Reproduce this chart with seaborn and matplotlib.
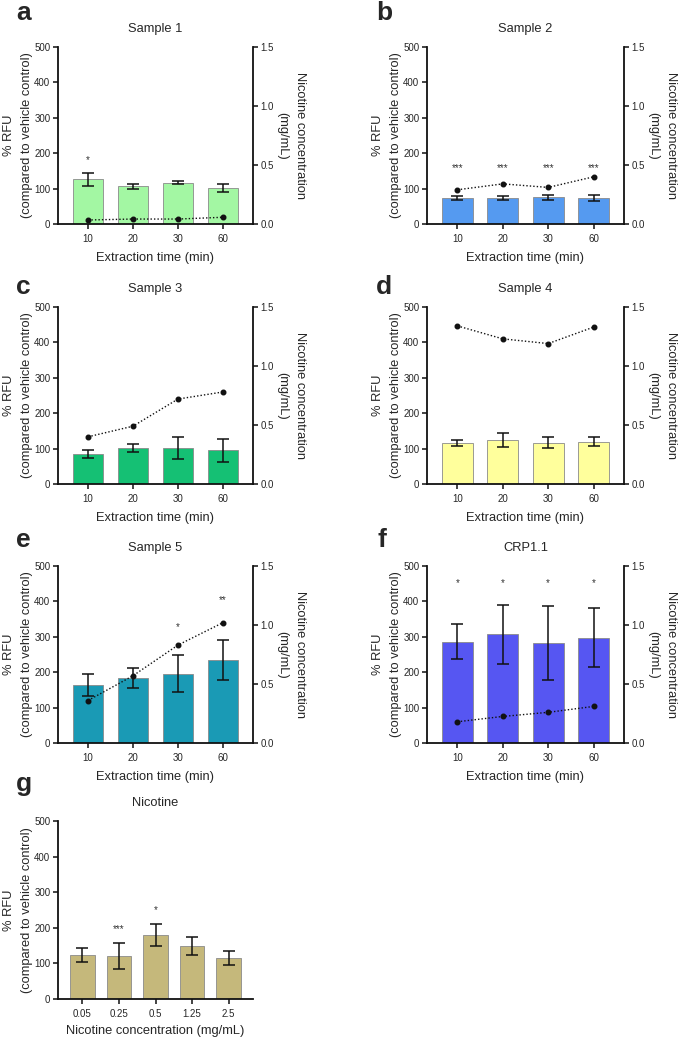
import matplotlib
matplotlib.use("Agg")
import matplotlib.pyplot as plt
import seaborn as sns
import numpy as np
import pandas as pd

sns.set_style("ticks")
plt.rcParams['font.family'] = ['Liberation Sans', 'DejaVu Sans']

# Data
times = ["10", "20", "30", "60"]

s1_mean = [126, 106, 117, 101]
s1_err = [18, 8, 5, 11]
s1_nic = [0.034, 0.042, 0.042, 0.057]
s1_stars = ["*", "", "", ""]
s1_star_y = [181, 0, 0, 0]

s2_mean = [73, 73, 76, 73]
s2_err = [6, 6, 7, 9]
s2_nic = [0.29, 0.34, 0.31, 0.40]
s2_stars = ["***", "***", "***", "***"]
s2_star_y = [157, 157, 157, 157]

s3_mean = [85, 102, 102, 95]
s3_err = [12, 12, 31, 32]
s3_nic = [0.40, 0.49, 0.72, 0.78]

s4_mean = [115, 124, 117, 120]
s4_err = [9, 20, 15, 13]
s4_nic = [1.34, 1.23, 1.19, 1.33]

s5_mean = [163, 184, 196, 234]
s5_err = [31, 28, 52, 56]
s5_nic = [0.36, 0.57, 0.83, 1.02]
s5_stars = ["", "", "*", "**"]
s5_star_y = [0, 0, 327, 403]

crp_mean = [286, 307, 283, 298]
crp_err = [49, 83, 105, 84]
crp_nic = [0.18, 0.225, 0.26, 0.31]
crp_stars = ["*", "*", "*", "*"]
crp_star_y = [452, 452, 452, 452]

nic_conc = ["0.05", "0.25", "0.5", "1.25", "2.5"]
nic_mean = [123, 121, 180, 148, 116]
nic_err = [20, 37, 32, 25, 20]
nic_stars = ["", "***", "*", "", ""]
nic_star_y = [0, 196, 251, 0, 0]

W, H = 682, 1040
fig = plt.figure(figsize=(W / 100, H / 100), dpi=100)


def make_ax(x0, y0, x1, y1):
    return fig.add_axes([x0 / W, 1 - y1 / H, (x1 - x0) / W, (y1 - y0) / H])


def panel(ax, cats, mean, err, color, title, nic=None, stars=None,
          star_y=None, xlabel="Extraction time (min)"):
    df = pd.DataFrame({"cat": cats, "val": mean})
    sns.barplot(data=df, x="cat", y="val", color=color, saturation=1,
                width=0.68, edgecolor="#8a8a8a", linewidth=0.6,
                errorbar=None, ax=ax)
    pos = np.arange(len(cats))
    ax.errorbar(pos, mean, yerr=err, fmt="none", ecolor="#111111",
                elinewidth=1.1, capsize=4.5, capthick=1.1, zorder=5)
    ax.set_ylim(0, 500)
    ax.set_xlim(-0.667, len(cats) - 0.333)
    ax.set_yticks([0, 100, 200, 300, 400, 500])
    ax.set_xlabel(xlabel, fontsize=9.3, labelpad=6)
    ax.set_ylabel("% RFU\n(compared to vehicle control)", fontsize=9.3,
                  labelpad=1, linespacing=1.65)
    ax.set_title(title, fontsize=9.3, pad=11)
    ax.tick_params(labelsize=7, width=1.1, length=3.5, pad=2, color="#111111")
    ax.tick_params(axis="x", pad=3.5)
    for s in ["left", "bottom"]:
        ax.spines[s].set_linewidth(1.3)
        ax.spines[s].set_color("#111111")
    ax.spines["top"].set_visible(False)
    ax.spines["right"].set_visible(False)
    if stars is not None:
        for p, s, y in zip(pos, stars, star_y):
            if s:
                ax.text(p, y, s, ha="center", va="center", fontsize=7,
                        color="#333333")
    if nic is not None:
        ax2 = ax.twinx()
        ax2.plot(pos, nic, linestyle=(0, (1, 1.5)), color="#111111",
                 linewidth=1.0, marker="o", markersize=3.3)
        ax2.set_ylim(0, 1.5)
        ax2.set_yticks([0, 0.5, 1.0, 1.5])
        ax2.set_yticklabels(["0.0", "0.5", "1.0", "1.5"])
        ax2.set_ylabel("Nicotine concentration\n(mg/mL)", fontsize=9.3,
                       rotation=270, labelpad=23, linespacing=1.65)
        ax2.tick_params(labelsize=7, width=1.1, length=3.5, pad=2,
                        color="#111111")
        ax2.spines["right"].set_linewidth(1.3)
        ax2.spines["right"].set_color("#111111")
        ax2.spines["top"].set_visible(False)
        ax2.spines["left"].set_visible(False)
        ax2.spines["bottom"].set_visible(False)


def letter(x, y, s):
    fig.text(x / W, 1 - y / H, s, fontsize=19, fontweight="bold",
             ha="left", va="baseline")


ax_a = make_ax(58, 47, 253, 224)
panel(ax_a, times, s1_mean, s1_err, "#a3f7a3", "Sample 1",
      nic=s1_nic, stars=s1_stars, star_y=s1_star_y)
letter(16, 20, "a")

ax_b = make_ax(427, 47, 624, 224)
panel(ax_b, times, s2_mean, s2_err, "#559af0", "Sample 2",
      nic=s2_nic, stars=s2_stars, star_y=s2_star_y)
letter(376, 20, "b")

ax_c = make_ax(58, 307, 253, 484)
panel(ax_c, times, s3_mean, s3_err, "#15c074", "Sample 3", nic=s3_nic)
letter(16, 294, "c")

ax_d = make_ax(427, 307, 624, 484)
panel(ax_d, times, s4_mean, s4_err, "#ffff9c", "Sample 4", nic=s4_nic)
letter(376, 294, "d")

ax_e = make_ax(58, 566, 253, 743)
panel(ax_e, times, s5_mean, s5_err, "#1a9ab5", "Sample 5",
      nic=s5_nic, stars=s5_stars, star_y=s5_star_y)
letter(16, 547, "e")

ax_f = make_ax(427, 566, 624, 743)
panel(ax_f, times, crp_mean, crp_err, "#5656f2", "CRP1.1",
      nic=crp_nic, stars=crp_stars, star_y=crp_star_y)
letter(378, 547, "f")

ax_g = make_ax(58, 821, 253, 999)
panel(ax_g, nic_conc, nic_mean, nic_err, "#c5b87b", "Nicotine",
      stars=nic_stars, star_y=nic_star_y,
      xlabel="Nicotine concentration (mg/mL)")
ax_g.xaxis.labelpad = 4.5
letter(16, 791, "g")

fig.savefig("out.png", dpi=100, facecolor="white")
